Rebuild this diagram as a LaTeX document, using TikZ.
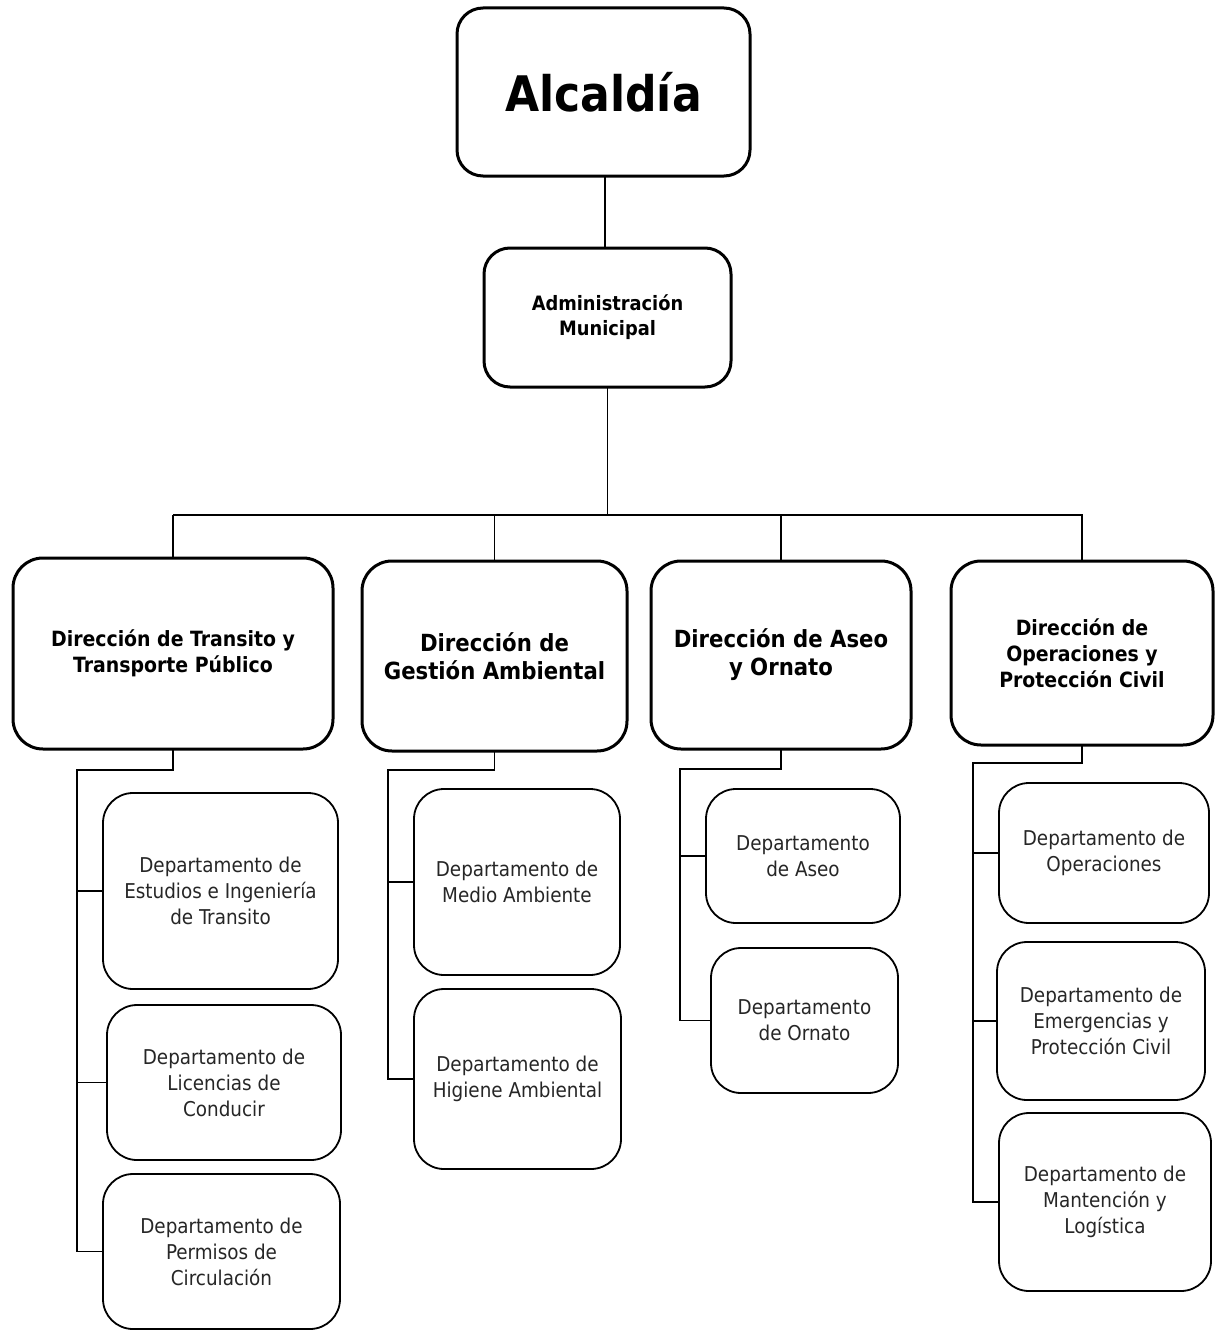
\documentclass[tikz,border=0pt]{standalone}
\usepackage{fontspec}
\setmainfont{DejaVu Sans Condensed}
\begin{document}
\begin{tikzpicture}[x=1pt,y=-1pt,
  every node/.style={outer sep=0pt, inner sep=2pt, align=center},
  topbox/.style={draw, line width=3pt, rounded corners=26pt, rectangle},
  headbox/.style={draw, line width=3pt, rounded corners=30pt, rectangle},
  deptbox/.style={draw, line width=1.8pt, rounded corners=30pt, rectangle, text=black!85,
    font=\fontsize{20.4}{26}\selectfont},
  headtext/.style={font=\bfseries\fontsize{21}{26}\selectfont},
  bighead/.style={font=\bfseries\fontsize{23.6}{28}\selectfont},
  link/.style={line width=1.8pt}]
\useasboundingbox (0,0) rectangle (1215,1330);

% top levels
\node[topbox, minimum width=293pt, minimum height=168pt,
  font=\bfseries\fontsize{49}{60}\selectfont] (alc) at (603.5,92) {Alcaldía};
\node[topbox, minimum width=247pt, minimum height=139pt,
  font=\bfseries\fontsize{19.8}{25}\selectfont] (adm) at (607.5,317.5) {Administración\\Municipal};

% directorates
\node[headbox, headtext, minimum width=320pt, minimum height=191pt] (d1) at (173,653.5)
  {Dirección de Transito y\\Transporte Público};
\node[headbox, bighead, minimum width=265pt, minimum height=190pt] (d2) at (494.5,656)
  {Dirección de\\Gestión Ambiental};
\node[headbox, bighead, minimum width=260pt, minimum height=188pt] (d3) at (781,655)
  {Dirección de Aseo\\y Ornato};
\node[headbox, headtext, minimum width=262pt, minimum height=184pt] (d4) at (1082,653)
  {Dirección de\\Operaciones y\\Protección Civil};

% departments
\node[deptbox, minimum width=235pt, minimum height=196pt] (c11) at (220.5,891)
  {Departamento de\\Estudios e Ingeniería\\de Transito};
\node[deptbox, minimum width=234pt, minimum height=155pt] (c12) at (224,1082.5)
  {Departamento de\\Licencias de\\Conducir};
\node[deptbox, minimum width=237pt, minimum height=155pt] (c13) at (221.5,1251.5)
  {Departamento de\\Permisos de\\Circulación};

\node[deptbox, minimum width=206pt, minimum height=186pt] (c21) at (517,882)
  {Departamento de\\Medio Ambiente};
\node[deptbox, minimum width=207pt, minimum height=180pt] (c22) at (517.5,1079)
  {Departamento de\\Higiene Ambiental};

\node[deptbox, minimum width=194pt, minimum height=134pt] (c31) at (803,856)
  {Departamento\\de Aseo};
\node[deptbox, minimum width=187pt, minimum height=145pt] (c32) at (804.5,1020.5)
  {Departamento\\de Ornato};

\node[deptbox, minimum width=210pt, minimum height=140pt] (c41) at (1104,853)
  {Departamento de\\Operaciones};
\node[deptbox, minimum width=208pt, minimum height=158pt] (c42) at (1101,1021)
  {Departamento de\\Emergencias y\\Protección Civil};
\node[deptbox, minimum width=212pt, minimum height=178pt] (c43) at (1105,1202)
  {Departamento de\\Mantención y\\Logística};

% upper connectors
\coordinate (busL) at (173,515);
\coordinate (busR) at (1083,515);
\coordinate (stem) at (605,176);
\draw[link] (alc.south -| stem) -- (adm.north -| stem);
\draw[link] (adm.south) -- (adm.south |- busL);
\draw[link] (busL) -- (busR);
\foreach \d in {d1,d2,d3,d4}
  \draw[link] (\d.north) -- (\d.north |- busL);

% column spines
\coordinate (s1) at (77,770);
\coordinate (s2) at (388,770);
\coordinate (s3) at (680,769);
\coordinate (s4) at (973,763);

\draw[link] (d1.south) |- (s1) -- (s1 |- c13.west) -- (c13.west);
\draw[link] (s1 |- c11.west) -- (c11.west);
\draw[link] (s1 |- c12.west) -- (c12.west);

\draw[link] (d2.south) |- (s2) -- (s2 |- c22.west) -- (c22.west);
\draw[link] (s2 |- c21.west) -- (c21.west);

\draw[link] (d3.south) |- (s3) -- (s3 |- c32.west) -- (c32.west);
\draw[link] (s3 |- c31.west) -- (c31.west);

\draw[link] (d4.south) |- (s4) -- (s4 |- c43.west) -- (c43.west);
\draw[link] (s4 |- c41.west) -- (c41.west);
\draw[link] (s4 |- c42.west) -- (c42.west);
\end{tikzpicture}
\end{document}
